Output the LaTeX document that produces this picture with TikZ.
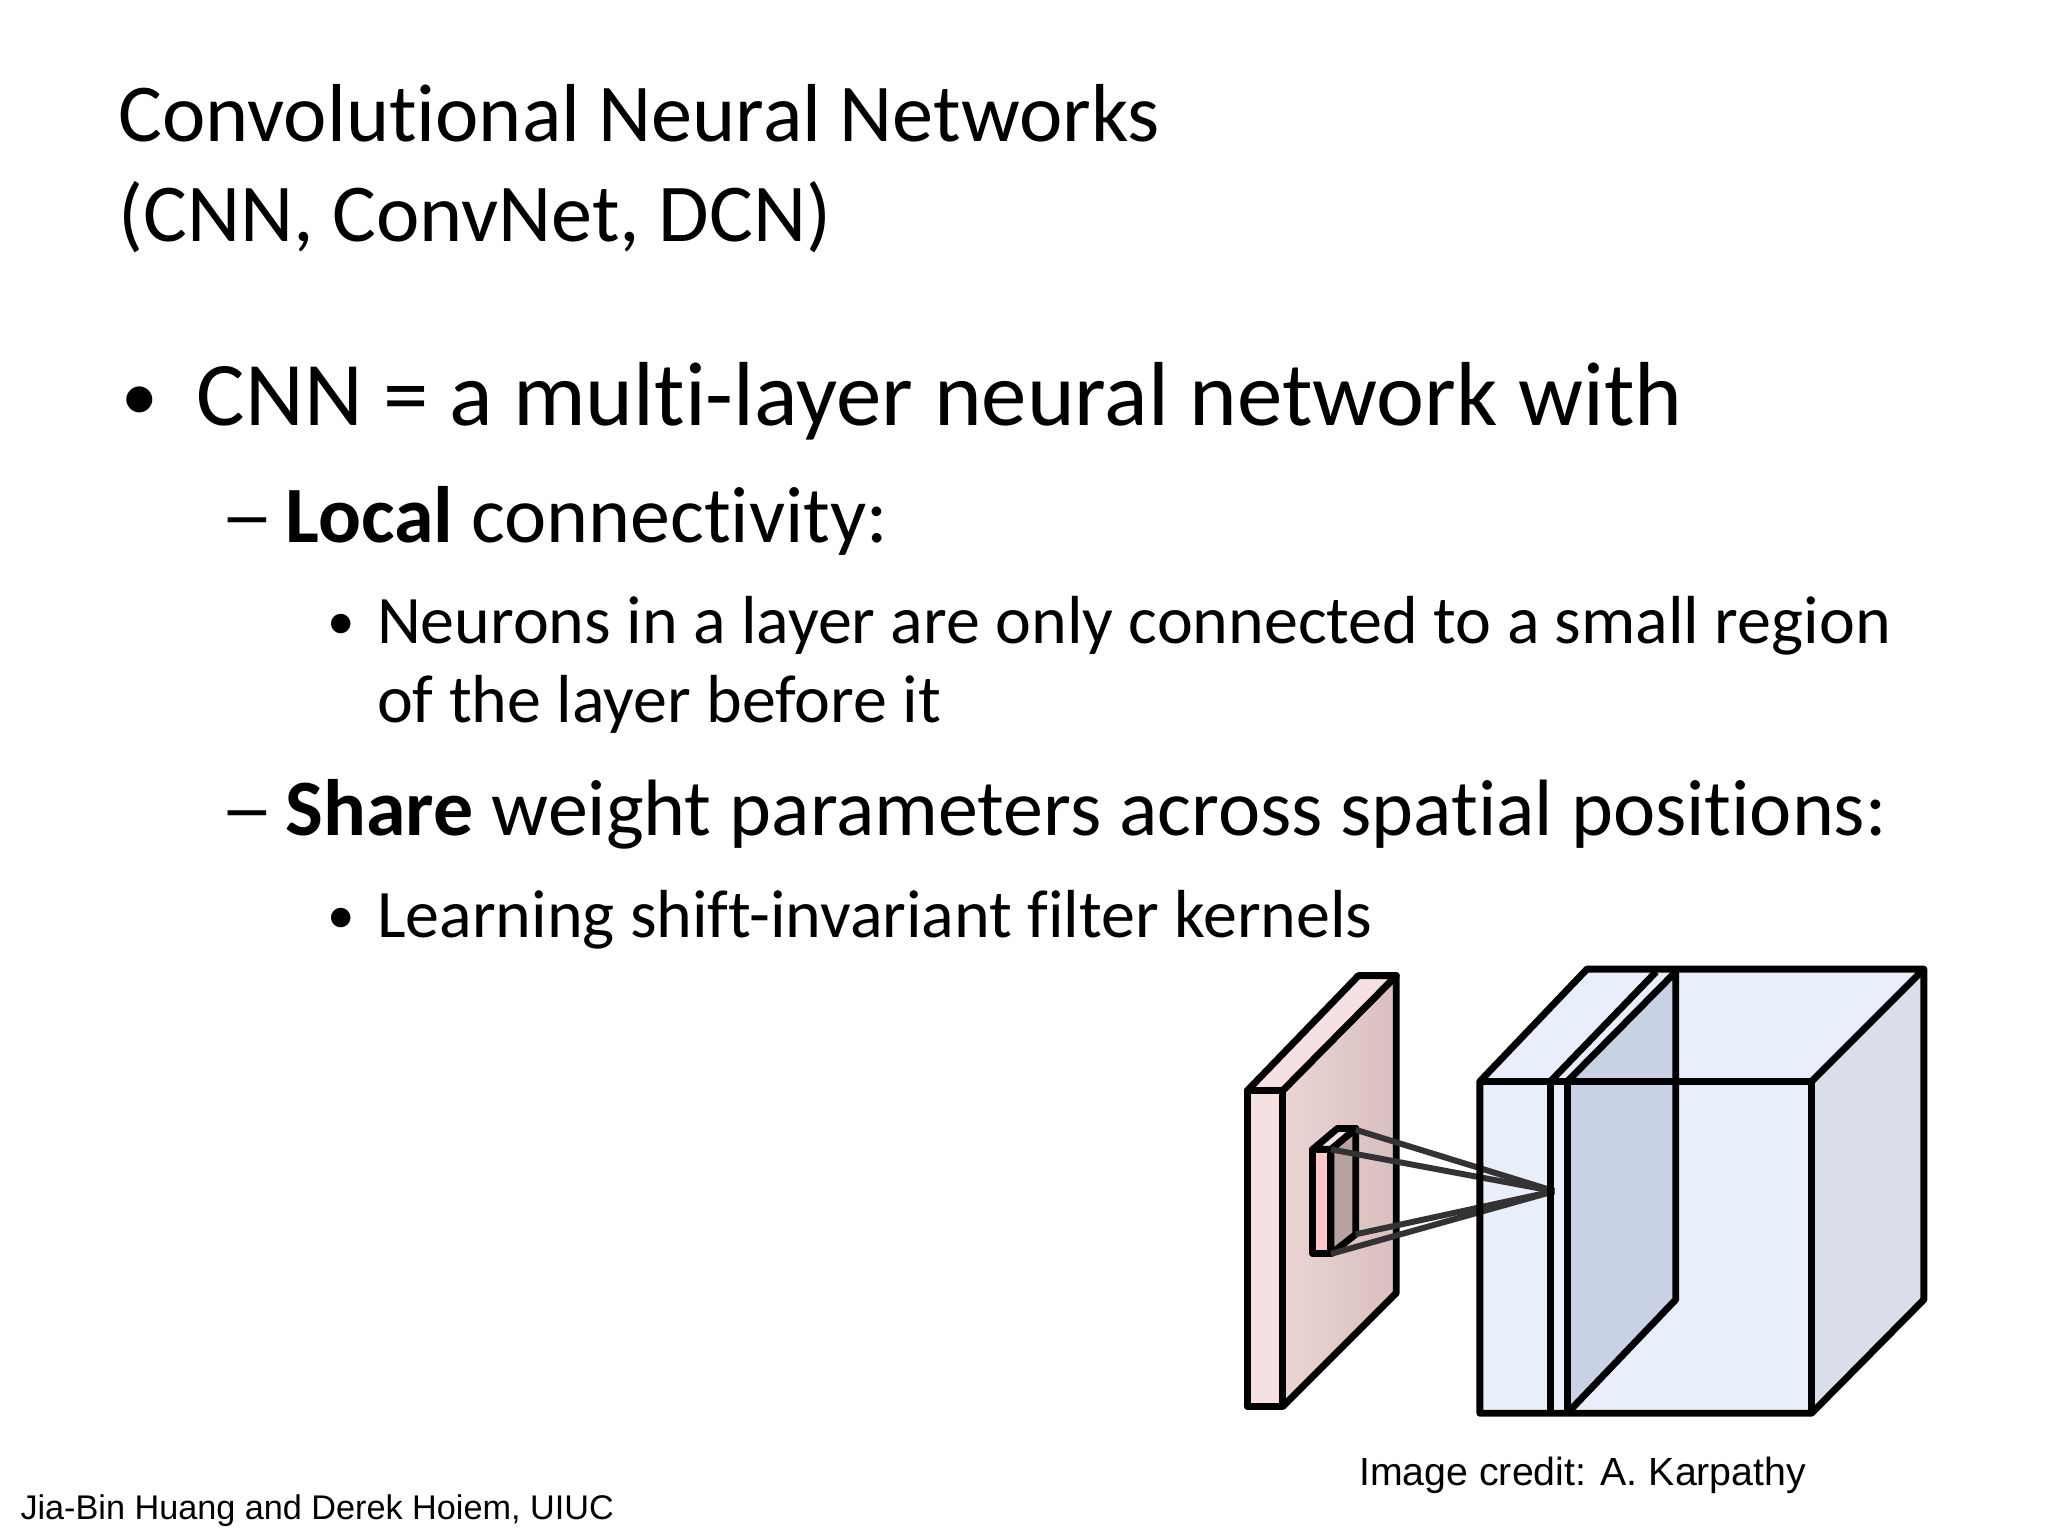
\documentclass[tikz,border=0pt]{standalone}
\usepackage{fontspec}
\setmainfont[Ligatures=NoCommon]{Carlito}
\newfontfamily\arialf{Liberation Sans}
\definecolor{cubef}{HTML}{E8EEFA}
\definecolor{cubes}{HTML}{D9DEEA}
\definecolor{slabs}{HTML}{C9D1E5}
\definecolor{redf}{HTML}{F5E1E1}
\definecolor{redl}{HTML}{EBD5D3}
\definecolor{redr}{HTML}{D9BFBD}
\begin{document}
\begin{tikzpicture}[x=0.01cm,y=-0.01cm,
  txt/.style={anchor=base west,inner sep=0pt},
  edge/.style={line width=1.5pt,line join=round,black},
  ray/.style={line width=1.3pt,black!80}]
\useasboundingbox[fill=white] (0,0) rectangle (1568,1176);
\node[txt,font=\fontsize{17.9pt}{17.9pt}\selectfont] (t1) at (90,108) {Convolutional Neural Networks};
\node[txt,font=\fontsize{17.9pt}{17.9pt}\selectfont] (t2) at (90,185) {(CNN, ConvNet, DCN)};
\node[txt,font=\fontsize{16pt}{16pt}\selectfont] (b0) at (92,322) {•};
\node[txt,font=\fontsize{19.8pt}{19.8pt}\selectfont] (b1) at (150,326) {CNN = a multi-layer neural network with};
\node[txt,font=\fontsize{17.4pt}{17.4pt}\selectfont] (b2d) at (168,415) {\scalebox{1.35}[1]{–}};
\node[txt,font=\fontsize{17.4pt}{17.4pt}\selectfont] (b2) at (218,415) {\textbf{Local} connectivity:};
\node[txt,font=\fontsize{12pt}{12pt}\selectfont] (b3d) at (250,490) {•};
\node[txt,font=\fontsize{14.8pt}{14.8pt}\selectfont] (b3) at (288,493) {Neurons in a layer are only connected to a small region};
\node[txt,font=\fontsize{14.8pt}{14.8pt}\selectfont] (b4) at (288,553) {of the layer before it};
\node[txt,font=\fontsize{17.4pt}{17.4pt}\selectfont] (b5d) at (168,640) {\scalebox{1.35}[1]{–}};
\node[txt,font=\fontsize{17.4pt}{17.4pt}\selectfont] (b5) at (218,640) {\textbf{Share} weight parameters across spatial positions:};
\node[txt,font=\fontsize{12pt}{12pt}\selectfont] (b6d) at (250,715) {•};
\node[txt,font=\fontsize{14.8pt}{14.8pt}\selectfont] (b6) at (288,718) {Learning shift-invariant filter kernels};
\node[txt,font=\arialf\fontsize{7.45pt}{7.45pt}\selectfont] (f1) at (15,1163) {Jia-Bin Huang and Derek Hoiem, UIUC};
\node[txt,font=\arialf\fontsize{8.55pt}{8.55pt}\selectfont] (f2) at (1040,1137) {Image credit: A. Karpathy};
% red slab
\fill[left color=redl,right color=redr] (982,835) -- (1069,747) -- (1069,990) -- (982,1077) -- cycle;
\draw[edge] (982,835) -- (1069,747) -- (1069,990) -- (982,1077);
\draw[edge,fill=redf] (955,835) -- (1040,747) -- (1069,747) -- (982,835) -- cycle;
\draw[edge,fill=redf] (955,835) rectangle (982,1077);
% small box
\draw[edge,fill=redr!85!black] (1019,880) -- (1038,864) -- (1038,945) -- (1019,960) -- cycle;
\draw[edge,fill=redf] (1005,880) -- (1024,864) -- (1038,864) -- (1019,880) -- cycle;
\draw[edge,fill=red!22] (1005,880) rectangle (1019,960);
% blue cube
\fill[cubef] (1133,828) -- (1215,742) -- (1473,742) -- (1473,995) -- (1387,1082) -- (1133,1082) -- cycle;
\fill[cubes] (1387,828) -- (1473,742) -- (1473,995) -- (1387,1082) -- cycle;
\fill[slabs] (1200,828) -- (1283,744) -- (1283,995) -- (1200,1082) -- cycle;
\coordinate (apex) at (1190,912);
\draw[ray] (1038,865) -- (apex);
\draw[ray] (1019,880) -- (apex);
\draw[ray] (1019,960) -- (apex);
\draw[ray] (1038,945) -- (apex);
\draw[edge] (1133,828) -- (1215,742) -- (1473,742) -- (1473,995) -- (1387,1082) -- (1133,1082) -- cycle;
\draw[edge] (1133,828) -- (1387,828) -- (1473,742);
\draw[edge] (1387,828) -- (1387,1082);
\draw[edge] (1187,828) -- (1187,1082);
\draw[edge] (1200,828) -- (1200,1082);
\draw[edge] (1187,828) -- (1268,744);
\draw[edge] (1200,828) -- (1283,744) -- (1283,995) -- (1200,1082);
\end{tikzpicture}
\end{document}
